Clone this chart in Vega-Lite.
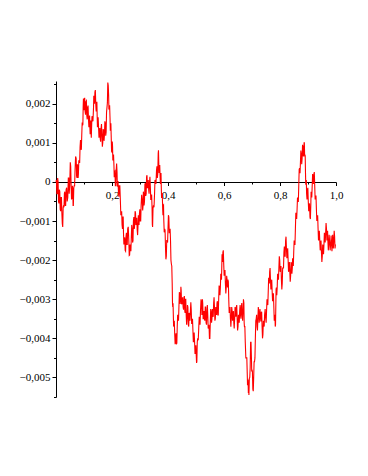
{
  "$schema": "https://vega.github.io/schema/vega-lite/v6.json",
  "width": 280,
  "height": 316,
  "autosize": "none",
  "padding": {"left": 56, "top": 81, "right": 32, "bottom": 79},
  "config": {"view": {"stroke": null}, "background": "white"},
  "data": {"values": [
    {"x":0,"y":0},{"x":0.003,"y":-0.0003},{"x":0.006,"y":0.0001},{"x":0.009,"y":-0.0005},{"x":0.012,"y":-0.0002},
    {"x":0.015,"y":-0.0007},{"x":0.018,"y":-0.0004},{"x":0.021,"y":-0.0008},{"x":0.024,"y":-0.00115},{"x":0.027,"y":-0.0006},
    {"x":0.030,"y":-0.0003},{"x":0.033,"y":-0.0006},{"x":0.036,"y":-0.0002},{"x":0.040,"y":-0.0005},{"x":0.044,"y":0.0001},
    {"x":0.047,"y":-0.0003},{"x":0.051,"y":0.0005},{"x":0.054,"y":-0.0001},{"x":0.057,"y":-0.0004},{"x":0.060,"y":-0.0002},
    {"x":0.062,"y":-0.0006},{"x":0.065,"y":-0.0001},{"x":0.068,"y":0.0003},{"x":0.072,"y":0.0006},{"x":0.075,"y":0.0001},
    {"x":0.078,"y":0.0004},{"x":0.080,"y":0.0002},{"x":0.083,"y":0.0005},{"x":0.086,"y":0.0009},{"x":0.089,"y":0.00085},
    {"x":0.092,"y":0.0012},{"x":0.095,"y":0.00145},{"x":0.097,"y":0.0019},{"x":0.099,"y":0.00196},{"x":0.101,"y":0.0021},
    {"x":0.104,"y":0.0018},{"x":0.107,"y":0.00205},{"x":0.110,"y":0.0017},{"x":0.113,"y":0.0019},{"x":0.116,"y":0.0016},
    {"x":0.119,"y":0.0016},{"x":0.121,"y":0.0014},{"x":0.123,"y":0.00145},{"x":0.125,"y":0.0013},{"x":0.127,"y":0.00137},
    {"x":0.130,"y":0.0016},{"x":0.134,"y":0.0019},{"x":0.136,"y":0.0021},{"x":0.139,"y":0.0023},{"x":0.142,"y":0.002},
    {"x":0.145,"y":0.002},{"x":0.147,"y":0.0017},{"x":0.149,"y":0.0015},{"x":0.152,"y":0.0014},{"x":0.155,"y":0.00127},
    {"x":0.158,"y":0.0011},{"x":0.161,"y":0.00137},{"x":0.164,"y":0.0012},{"x":0.167,"y":0.001},{"x":0.170,"y":0.0013},
    {"x":0.173,"y":0.0012},{"x":0.176,"y":0.0015},{"x":0.179,"y":0.00127},{"x":0.182,"y":0.0019},{"x":0.185,"y":0.00254},
    {"x":0.188,"y":0.0022},{"x":0.190,"y":0.0019},{"x":0.193,"y":0.00163},{"x":0.195,"y":0.0014},{"x":0.197,"y":0.0012},
    {"x":0.200,"y":0.00076},{"x":0.202,"y":0.0009},{"x":0.204,"y":0.0006},{"x":0.207,"y":0.0004},{"x":0.209,"y":0.00025},
    {"x":0.212,"y":-0.0001},{"x":0.215,"y":0.0003},{"x":0.218,"y":0.00025},{"x":0.220,"y":-0.0001},{"x":0.223,"y":-0.00026},
    {"x":0.226,"y":-0.0001},{"x":0.230,"y":-0.0005},{"x":0.233,"y":-0.0008},{"x":0.236,"y":-0.0011},{"x":0.239,"y":-0.0009},
    {"x":0.241,"y":-0.0013},{"x":0.244,"y":-0.0015},{"x":0.247,"y":-0.00175},{"x":0.250,"y":-0.0014},{"x":0.253,"y":-0.0016},
    {"x":0.256,"y":-0.0012},{"x":0.260,"y":-0.0015},{"x":0.263,"y":-0.00187},{"x":0.266,"y":-0.00174},{"x":0.269,"y":-0.0014},
    {"x":0.272,"y":-0.0012},{"x":0.275,"y":-0.0015},{"x":0.278,"y":-0.0009},{"x":0.281,"y":-0.0011},{"x":0.284,"y":-0.0008},
    {"x":0.287,"y":-0.001},{"x":0.290,"y":-0.00123},{"x":0.293,"y":-0.0011},{"x":0.295,"y":-0.001},{"x":0.298,"y":-0.0008},
    {"x":0.301,"y":-0.001},{"x":0.304,"y":-0.0006},{"x":0.308,"y":-0.00047},{"x":0.311,"y":-0.0006},{"x":0.313,"y":-0.0003},
    {"x":0.316,"y":-0.0005},{"x":0.319,"y":-0.00003},{"x":0.322,"y":-0.0003},{"x":0.325,"y":0.00017},{"x":0.328,"y":-0.0001},
    {"x":0.331,"y":-0.0002},{"x":0.334,"y":0.0},{"x":0.337,"y":-0.00013},{"x":0.340,"y":-0.0004},{"x":0.343,"y":-0.00064},
    {"x":0.345,"y":-0.00115},{"x":0.348,"y":-0.0006},{"x":0.352,"y":-0.0003},{"x":0.355,"y":0.0},{"x":0.359,"y":0.0003},
    {"x":0.362,"y":0.0001},{"x":0.365,"y":0.00073},{"x":0.367,"y":0.0005},{"x":0.369,"y":0.00037},{"x":0.372,"y":0.0001},
    {"x":0.374,"y":0.0002},{"x":0.376,"y":-0.00013},{"x":0.378,"y":-0.0003},{"x":0.381,"y":-0.0007},{"x":0.383,"y":-0.0006},
    {"x":0.385,"y":-0.00098},{"x":0.388,"y":-0.0012},{"x":0.391,"y":-0.00166},{"x":0.394,"y":-0.0019},{"x":0.397,"y":-0.0015},
    {"x":0.400,"y":-0.0012},{"x":0.403,"y":-0.0009},{"x":0.406,"y":-0.0013},{"x":0.409,"y":-0.0015},{"x":0.412,"y":-0.0021},
    {"x":0.415,"y":-0.0026},{"x":0.417,"y":-0.0032},{"x":0.419,"y":-0.0034},{"x":0.421,"y":-0.0036},{"x":0.424,"y":-0.0039},
    {"x":0.427,"y":-0.004},{"x":0.430,"y":-0.00415},{"x":0.433,"y":-0.0037},{"x":0.436,"y":-0.0035},{"x":0.439,"y":-0.0032},
    {"x":0.442,"y":-0.00285},{"x":0.445,"y":-0.003},{"x":0.447,"y":-0.00277},{"x":0.450,"y":-0.0031},{"x":0.454,"y":-0.0032},
    {"x":0.457,"y":-0.00295},{"x":0.460,"y":-0.0033},{"x":0.462,"y":-0.003},{"x":0.465,"y":-0.0034},{"x":0.468,"y":-0.0035},
    {"x":0.471,"y":-0.0032},{"x":0.474,"y":-0.0037},{"x":0.477,"y":-0.0034},{"x":0.480,"y":-0.0033},{"x":0.483,"y":-0.00327},
    {"x":0.486,"y":-0.0036},{"x":0.489,"y":-0.0038},{"x":0.492,"y":-0.004},{"x":0.495,"y":-0.0041},{"x":0.498,"y":-0.0043},
    {"x":0.501,"y":-0.00446},{"x":0.503,"y":-0.0046},{"x":0.506,"y":-0.004},{"x":0.510,"y":-0.0037},{"x":0.513,"y":-0.0036},
    {"x":0.516,"y":-0.0033},{"x":0.520,"y":-0.0031},{"x":0.522,"y":-0.0033},{"x":0.524,"y":-0.0031},{"x":0.527,"y":-0.0035},
    {"x":0.530,"y":-0.0035},{"x":0.533,"y":-0.0032},{"x":0.536,"y":-0.0036},{"x":0.539,"y":-0.0033},{"x":0.542,"y":-0.0034},
    {"x":0.545,"y":-0.0037},{"x":0.548,"y":-0.004},{"x":0.551,"y":-0.0036},{"x":0.554,"y":-0.0033},{"x":0.557,"y":-0.0035},
    {"x":0.560,"y":-0.0034},{"x":0.563,"y":-0.0031},{"x":0.566,"y":-0.0032},{"x":0.569,"y":-0.0035},{"x":0.572,"y":-0.0033},
    {"x":0.575,"y":-0.0031},{"x":0.578,"y":-0.0034},{"x":0.581,"y":-0.003},{"x":0.584,"y":-0.0027},{"x":0.587,"y":-0.0027},
    {"x":0.590,"y":-0.0024},{"x":0.592,"y":-0.0022},{"x":0.594,"y":-0.0019},{"x":0.596,"y":-0.0018},{"x":0.599,"y":-0.0021},
    {"x":0.602,"y":-0.0023},{"x":0.605,"y":-0.0026},{"x":0.608,"y":-0.0027},{"x":0.611,"y":-0.0025},{"x":0.614,"y":-0.0025},
    {"x":0.617,"y":-0.003},{"x":0.620,"y":-0.0033},{"x":0.623,"y":-0.0035},{"x":0.626,"y":-0.0035},{"x":0.629,"y":-0.0033},
    {"x":0.632,"y":-0.0034},{"x":0.635,"y":-0.0036},{"x":0.638,"y":-0.0035},{"x":0.641,"y":-0.0033},{"x":0.644,"y":-0.0032},
    {"x":0.647,"y":-0.0035},{"x":0.650,"y":-0.0037},{"x":0.653,"y":-0.0035},{"x":0.656,"y":-0.0033},{"x":0.659,"y":-0.0034},
    {"x":0.662,"y":-0.0032},{"x":0.665,"y":-0.0034},{"x":0.668,"y":-0.0033},{"x":0.671,"y":-0.0031},{"x":0.673,"y":-0.0037},
    {"x":0.676,"y":-0.0041},{"x":0.680,"y":-0.0045},{"x":0.683,"y":-0.0049},{"x":0.685,"y":-0.0051},{"x":0.687,"y":-0.0054},
    {"x":0.689,"y":-0.00545},{"x":0.692,"y":-0.005},{"x":0.695,"y":-0.0041},{"x":0.698,"y":-0.0045},{"x":0.700,"y":-0.0048},
    {"x":0.703,"y":-0.0053},{"x":0.706,"y":-0.005},{"x":0.709,"y":-0.0046},{"x":0.712,"y":-0.004},{"x":0.715,"y":-0.0035},
    {"x":0.718,"y":-0.0037},{"x":0.721,"y":-0.0035},{"x":0.724,"y":-0.0033},{"x":0.727,"y":-0.0035},{"x":0.730,"y":-0.0034},
    {"x":0.733,"y":-0.00335},{"x":0.736,"y":-0.0037},{"x":0.739,"y":-0.0039},{"x":0.742,"y":-0.0036},{"x":0.745,"y":-0.0034},
    {"x":0.749,"y":-0.0035},{"x":0.752,"y":-0.0033},{"x":0.755,"y":-0.0031},{"x":0.758,"y":-0.0028},{"x":0.761,"y":-0.0025},
    {"x":0.763,"y":-0.0023},{"x":0.766,"y":-0.0025},{"x":0.769,"y":-0.0026},{"x":0.772,"y":-0.0028},{"x":0.775,"y":-0.0029},
    {"x":0.778,"y":-0.0032},{"x":0.781,"y":-0.0035},{"x":0.783,"y":-0.0037},{"x":0.785,"y":-0.0032},{"x":0.787,"y":-0.0027},
    {"x":0.790,"y":-0.0027},{"x":0.793,"y":-0.0024},{"x":0.796,"y":-0.0022},{"x":0.799,"y":-0.002},{"x":0.802,"y":-0.0022},
    {"x":0.805,"y":-0.0025},{"x":0.808,"y":-0.0026},{"x":0.811,"y":-0.0022},{"x":0.814,"y":-0.0018},{"x":0.817,"y":-0.0019},
    {"x":0.820,"y":-0.0015},{"x":0.823,"y":-0.0017},{"x":0.826,"y":-0.0018},{"x":0.829,"y":-0.002},{"x":0.832,"y":-0.0022},
    {"x":0.835,"y":-0.0023},{"x":0.838,"y":-0.0024},{"x":0.841,"y":-0.0021},{"x":0.844,"y":-0.0022},{"x":0.846,"y":-0.0021},
    {"x":0.849,"y":-0.0018},{"x":0.852,"y":-0.0016},{"x":0.855,"y":-0.0012},{"x":0.858,"y":-0.0008},{"x":0.861,"y":-0.0007},
    {"x":0.864,"y":-0.0005},{"x":0.867,"y":-0.0001},{"x":0.870,"y":0.00035},{"x":0.873,"y":0.0005},{"x":0.876,"y":0.0007},
    {"x":0.879,"y":0.0006},{"x":0.882,"y":0.0009},{"x":0.885,"y":0.0008},{"x":0.887,"y":0.001},{"x":0.889,"y":0.0007},
    {"x":0.891,"y":0.00025},{"x":0.893,"y":0.0},{"x":0.895,"y":-0.0003},{"x":0.898,"y":-0.0002},{"x":0.901,"y":-0.0005},
    {"x":0.904,"y":-0.0006},{"x":0.907,"y":-0.0009},{"x":0.910,"y":-0.0006},{"x":0.912,"y":-0.0003},{"x":0.915,"y":-0.0001},
    {"x":0.918,"y":0.0001},{"x":0.921,"y":0.0002},{"x":0.924,"y":-0.0001},{"x":0.927,"y":-0.0004},{"x":0.930,"y":-0.0007},
    {"x":0.933,"y":-0.0009},{"x":0.936,"y":-0.0012},{"x":0.939,"y":-0.0014},{"x":0.942,"y":-0.0015},{"x":0.945,"y":-0.0016},
    {"x":0.948,"y":-0.0018},{"x":0.951,"y":-0.0019},{"x":0.954,"y":-0.0017},{"x":0.957,"y":-0.0016},{"x":0.960,"y":-0.0014},
    {"x":0.963,"y":-0.0013},{"x":0.966,"y":-0.0012},{"x":0.969,"y":-0.0014},{"x":0.971,"y":-0.0015},{"x":0.974,"y":-0.0016},
    {"x":0.977,"y":-0.0015},{"x":0.981,"y":-0.0016},{"x":0.984,"y":-0.00155},{"x":0.987,"y":-0.0016},{"x":0.989,"y":-0.0015},
    {"x":0.992,"y":-0.0015},{"x":0.995,"y":-0.0014},{"x":0.998,"y":-0.0016},
    {"x":0.0015,"y":0.00005},{"x":0.0045,"y":-0.0003},{"x":0.0075,"y":0.0},{"x":0.0105,"y":-0.00055},{"x":0.0135,"y":-0.00025},
    {"x":0.0165,"y":-0.00075},{"x":0.0195,"y":-0.0004},{"x":0.0225,"y":-0.00107},{"x":0.0255,"y":-0.00067},{"x":0.0285,"y":-0.00065},
    {"x":0.0315,"y":-0.00025},{"x":0.0345,"y":-0.0006},{"x":0.038,"y":-0.00015},{"x":0.042,"y":-0.0004},{"x":0.0455,"y":0.0001},
    {"x":0.049,"y":-0.0001},{"x":0.0525,"y":0.0004},{"x":0.0555,"y":-0.00045},{"x":0.0585,"y":-0.0001},{"x":0.061,"y":-0.0006},
    {"x":0.0635,"y":-0.00015},{"x":0.0665,"y":-0.0001},{"x":0.070,"y":0.00065},{"x":0.0735,"y":0.00015},{"x":0.0765,"y":0.00045},
    {"x":0.079,"y":0.0001},{"x":0.0815,"y":0.00055},{"x":0.0845,"y":0.0005},{"x":0.0875,"y":0.00107},{"x":0.0905,"y":0.00082},
    {"x":0.0935,"y":0.00152},{"x":0.096,"y":0.00147},{"x":0.098,"y":0.00213},{"x":0.100,"y":0.00183},{"x":0.1025,"y":0.00215},
    {"x":0.1055,"y":0.00172},{"x":0.1085,"y":0.00207},{"x":0.1115,"y":0.0016},{"x":0.1145,"y":0.00195},{"x":0.1175,"y":0.0014},
    {"x":0.120,"y":0.0017},{"x":0.122,"y":0.00122},{"x":0.124,"y":0.00157},{"x":0.126,"y":0.00113},{"x":0.1285,"y":0.00168},
    {"x":0.132,"y":0.00155},{"x":0.135,"y":0.0022},{"x":0.1375,"y":0.002},{"x":0.1405,"y":0.00235},{"x":0.1435,"y":0.0018},
    {"x":0.146,"y":0.00205},{"x":0.148,"y":0.0014},{"x":0.1505,"y":0.00165},{"x":0.1535,"y":0.00113},{"x":0.1565,"y":0.00138},
    {"x":0.1595,"y":0.00103},{"x":0.1625,"y":0.00148},{"x":0.1655,"y":0.0009},{"x":0.1685,"y":0.00135},{"x":0.1715,"y":0.00105},
    {"x":0.1745,"y":0.00155},{"x":0.1775,"y":0.00118},{"x":0.1805,"y":0.00178},{"x":0.1835,"y":0.00202},{"x":0.1865,"y":0.00247},
    {"x":0.189,"y":0.00185},{"x":0.1915,"y":0.00196},{"x":0.194,"y":0.00131},{"x":0.196,"y":0.0015},{"x":0.1985,"y":0.00078},
    {"x":0.201,"y":0.00103},{"x":0.203,"y":0.00055},{"x":0.2055,"y":0.0007},{"x":0.208,"y":0.00012},{"x":0.2105,"y":0.00027},
    {"x":0.2135,"y":-0.0001},{"x":0.2165,"y":0.00047},{"x":0.219,"y":-0.00012},{"x":0.2215,"y":0.00002},{"x":0.2245,"y":-0.00038},
    {"x":0.228,"y":-0.0001},{"x":0.2315,"y":-0.00085},{"x":0.2345,"y":-0.00075},{"x":0.2375,"y":-0.0012},{"x":0.240,"y":-0.0009},
    {"x":0.2425,"y":-0.0016},{"x":0.2455,"y":-0.00142},{"x":0.2485,"y":-0.00177},{"x":0.2515,"y":-0.0013},{"x":0.2545,"y":-0.0016},
    {"x":0.258,"y":-0.00115},{"x":0.2615,"y":-0.00188},{"x":0.2645,"y":-0.0016},{"x":0.2675,"y":-0.00177},{"x":0.2705,"y":-0.0011},
    {"x":0.2735,"y":-0.00155},{"x":0.2765,"y":-0.001},{"x":0.2795,"y":-0.0012},{"x":0.2825,"y":-0.00075},{"x":0.2855,"y":-0.0011},
    {"x":0.2885,"y":-0.00092},{"x":0.2915,"y":-0.00136},{"x":0.294,"y":-0.00085},{"x":0.2965,"y":-0.0011},{"x":0.2995,"y":-0.0007},
    {"x":0.3025,"y":-0.001},{"x":0.306,"y":-0.00033},{"x":0.3095,"y":-0.00073},{"x":0.312,"y":-0.00025},{"x":0.3145,"y":-0.0006},
    {"x":0.3175,"y":-0.00006},{"x":0.3205,"y":-0.00036},{"x":0.3235,"y":0.00013},{"x":0.3265,"y":-0.00016},{"x":0.3295,"y":0.00005},
    {"x":0.3325,"y":-0.0003},{"x":0.3355,"y":0.00013},{"x":0.3385,"y":-0.00046},{"x":0.3415,"y":-0.00032},{"x":0.344,"y":-0.00109},
    {"x":0.3465,"y":-0.00067},{"x":0.350,"y":-0.00065},{"x":0.3535,"y":0.00005},{"x":0.357,"y":-0.00005},{"x":0.3605,"y":0.0004},
    {"x":0.3635,"y":0.00021},{"x":0.366,"y":0.00081},{"x":0.368,"y":0.00023},{"x":0.3705,"y":0.00043},{"x":0.373,"y":-0.00005},
    {"x":0.375,"y":0.00023},{"x":0.377,"y":-0.00041},{"x":0.3795,"y":-0.0003},{"x":0.382,"y":-0.00085},{"x":0.384,"y":-0.00059},
    {"x":0.3865,"y":-0.00129},{"x":0.3895,"y":-0.00123},{"x":0.3925,"y":-0.00198},{"x":0.3955,"y":-0.0015},{"x":0.3985,"y":-0.00155},
    {"x":0.4015,"y":-0.00085},{"x":0.4045,"y":-0.0013},{"x":0.4075,"y":-0.0012},{"x":0.4105,"y":-0.002},{"x":0.4135,"y":-0.00215},
    {"x":0.416,"y":-0.0031},{"x":0.418,"y":-0.0031},{"x":0.420,"y":-0.0037},{"x":0.4225,"y":-0.00355},{"x":0.4255,"y":-0.00415},
    {"x":0.4285,"y":-0.00387},{"x":0.4315,"y":-0.00412},{"x":0.4345,"y":-0.0034},{"x":0.4375,"y":-0.00355},{"x":0.4405,"y":-0.00282},
    {"x":0.4435,"y":-0.00312},{"x":0.446,"y":-0.00268},{"x":0.4485,"y":-0.00313},{"x":0.452,"y":-0.00295},{"x":0.4555,"y":-0.00327},
    {"x":0.4585,"y":-0.00292},{"x":0.461,"y":-0.00335},{"x":0.4635,"y":-0.003},{"x":0.4665,"y":-0.00365},{"x":0.4695,"y":-0.00315},
    {"x":0.4725,"y":-0.00365},{"x":0.4755,"y":-0.00335},{"x":0.4785,"y":-0.00355},{"x":0.4815,"y":-0.00308},{"x":0.4845,"y":-0.00363},
    {"x":0.4875,"y":-0.0035},{"x":0.4905,"y":-0.0041},{"x":0.4935,"y":-0.00385},{"x":0.4965,"y":-0.0044},{"x":0.4995,"y":-0.00418},
    {"x":0.502,"y":-0.00463},{"x":0.5045,"y":-0.0041},{"x":0.508,"y":-0.00405},{"x":0.5115,"y":-0.00345},{"x":0.5145,"y":-0.00365},
    {"x":0.518,"y":-0.003},{"x":0.521,"y":-0.0034},{"x":0.523,"y":-0.003},{"x":0.5255,"y":-0.0035},{"x":0.5285,"y":-0.0033},
    {"x":0.5315,"y":-0.00355},{"x":0.5345,"y":-0.0032},{"x":0.5375,"y":-0.00365},{"x":0.5405,"y":-0.00315},{"x":0.5435,"y":-0.00375},
    {"x":0.5465,"y":-0.00365},{"x":0.5495,"y":-0.004},{"x":0.5525,"y":-0.00325},{"x":0.5555,"y":-0.0036},{"x":0.5585,"y":-0.00325},
    {"x":0.5615,"y":-0.00345},{"x":0.5645,"y":-0.00295},{"x":0.5675,"y":-0.00355},{"x":0.5705,"y":-0.0032},{"x":0.5735,"y":-0.0034},
    {"x":0.5765,"y":-0.00305},{"x":0.5795,"y":-0.0034},{"x":0.5825,"y":-0.00265},{"x":0.5855,"y":-0.0029},{"x":0.5885,"y":-0.00235},
    {"x":0.591,"y":-0.0025},{"x":0.593,"y":-0.00185},{"x":0.595,"y":-0.00205},{"x":0.5975,"y":-0.00175},{"x":0.6005,"y":-0.0024},
    {"x":0.6035,"y":-0.00225},{"x":0.6065,"y":-0.00285},{"x":0.6095,"y":-0.0024},{"x":0.6125,"y":-0.0027},{"x":0.6155,"y":-0.00255},
    {"x":0.6185,"y":-0.00335},{"x":0.6215,"y":-0.0032},{"x":0.6245,"y":-0.0037},{"x":0.6275,"y":-0.0032},{"x":0.6305,"y":-0.00355},
    {"x":0.6335,"y":-0.0033},{"x":0.6365,"y":-0.00375},{"x":0.6395,"y":-0.0032},{"x":0.6425,"y":-0.00345},{"x":0.6455,"y":-0.00315},
    {"x":0.6485,"y":-0.0038},{"x":0.6515,"y":-0.0034},{"x":0.6545,"y":-0.0036},{"x":0.6575,"y":-0.00315},{"x":0.6605,"y":-0.0035},
    {"x":0.6635,"y":-0.0031},{"x":0.6665,"y":-0.00355},{"x":0.6695,"y":-0.003},{"x":0.672,"y":-0.0036},{"x":0.6745,"y":-0.0037},
    {"x":0.678,"y":-0.0045},{"x":0.6815,"y":-0.0045},{"x":0.684,"y":-0.0052},{"x":0.686,"y":-0.00505},{"x":0.688,"y":-0.0053},
    {"x":0.6905,"y":-0.00502},{"x":0.6935,"y":-0.00475},{"x":0.6965,"y":-0.0041},{"x":0.699,"y":-0.00485},{"x":0.7015,"y":-0.00485},
    {"x":0.7045,"y":-0.00535},{"x":0.7075,"y":-0.0046},{"x":0.7105,"y":-0.0045},{"x":0.7135,"y":-0.00355},{"x":0.7165,"y":-0.0034},
    {"x":0.7195,"y":-0.0038},{"x":0.7225,"y":-0.0032},{"x":0.7255,"y":-0.0036},{"x":0.7285,"y":-0.00325},{"x":0.7315,"y":-0.00357},
    {"x":0.7345,"y":-0.00332},{"x":0.7375,"y":-0.004},{"x":0.7405,"y":-0.00355},{"x":0.7435,"y":-0.0037},{"x":0.747,"y":-0.00325},
    {"x":0.7505,"y":-0.0036},{"x":0.7535,"y":-0.003},{"x":0.7565,"y":-0.00315},{"x":0.7595,"y":-0.00245},{"x":0.762,"y":-0.0026},
    {"x":0.7645,"y":-0.0022},{"x":0.7675,"y":-0.00275},{"x":0.7705,"y":-0.0025},{"x":0.7735,"y":-0.00305},{"x":0.7765,"y":-0.00285},
    {"x":0.7795,"y":-0.00355},{"x":0.782,"y":-0.0034},{"x":0.784,"y":-0.00365},{"x":0.786,"y":-0.00275},{"x":0.7885,"y":-0.0029},
    {"x":0.7915,"y":-0.00235},{"x":0.7945,"y":-0.0025},{"x":0.7975,"y":-0.0019},{"x":0.8005,"y":-0.0023},{"x":0.8035,"y":-0.00215},
    {"x":0.8065,"y":-0.00275},{"x":0.8095,"y":-0.0022},{"x":0.8125,"y":-0.0022},{"x":0.8155,"y":-0.00165},{"x":0.8185,"y":-0.0019},
    {"x":0.8215,"y":-0.0014},{"x":0.8245,"y":-0.00195},{"x":0.8275,"y":-0.0017},{"x":0.8305,"y":-0.0023},{"x":0.8335,"y":-0.00205},
    {"x":0.8365,"y":-0.00255},{"x":0.8395,"y":-0.00205},{"x":0.8425,"y":-0.00235},{"x":0.845,"y":-0.00195},{"x":0.8475,"y":-0.00215},
    {"x":0.8505,"y":-0.0015},{"x":0.8535,"y":-0.0016},{"x":0.8565,"y":-0.0008},{"x":0.8595,"y":-0.00095},{"x":0.8625,"y":-0.0004},
    {"x":0.8655,"y":-0.0005},{"x":0.8685,"y":0.00032},{"x":0.8715,"y":0.00022},{"x":0.8745,"y":0.0008},{"x":0.8775,"y":0.00045},
    {"x":0.8805,"y":0.00095},{"x":0.8835,"y":0.00065},{"x":0.886,"y":0.001},{"x":0.888,"y":0.00065},{"x":0.890,"y":0.00067},
    {"x":0.892,"y":-0.00007},{"x":0.894,"y":0.00005},{"x":0.8965,"y":-0.00045},{"x":0.8995,"y":-0.00015},{"x":0.9025,"y":-0.00075},
    {"x":0.9055,"y":-0.00055},{"x":0.9085,"y":-0.00095},{"x":0.911,"y":-0.00025},{"x":0.9135,"y":-0.0004},{"x":0.9165,"y":0.0002},
    {"x":0.9195,"y":-0.00005},{"x":0.9225,"y":0.00025},{"x":0.9255,"y":-0.00045},{"x":0.9285,"y":-0.00035},{"x":0.9315,"y":-0.001},
    {"x":0.9345,"y":-0.00085},{"x":0.9375,"y":-0.0015},{"x":0.9405,"y":-0.00125},{"x":0.9435,"y":-0.00175},{"x":0.9465,"y":-0.0015},
    {"x":0.9495,"y":-0.00205},{"x":0.9525,"y":-0.0016},{"x":0.9555,"y":-0.00185},{"x":0.9585,"y":-0.0013},{"x":0.9615,"y":-0.00155},
    {"x":0.9645,"y":-0.00105},{"x":0.9675,"y":-0.0015},{"x":0.970,"y":-0.00125},{"x":0.9725,"y":-0.00175},{"x":0.9755,"y":-0.00135},
    {"x":0.979,"y":-0.00175},{"x":0.9825,"y":-0.00137},{"x":0.9855,"y":-0.00177},{"x":0.988,"y":-0.00135},{"x":0.9905,"y":-0.0017},
    {"x":0.9935,"y":-0.00125},{"x":0.9965,"y":-0.0017}
  ]},
  "mark": {"type": "line", "color": "#ff0000", "strokeWidth": 1.1},
  "encoding": {
    "x": {
      "field": "x", "type": "quantitative",
      "scale": {"domain": [0, 1], "nice": false, "zero": false},
      "axis": {
        "title": null,
        "offset": -215,
        "values": [0.1, 0.2, 0.3, 0.4, 0.5, 0.6, 0.7, 0.8, 0.9, 1.0],
        "grid": false,
        "domainColor": "#000000",
        "domainWidth": 1,
        "tickColor": "#000000",
        "tickWidth": 1,
        "tickSize": {"condition": {"test": "round(datum.value*10) % 2 == 0", "value": 3.5}, "value": 2},
        "labelExpr": "round(datum.value*10) % 2 == 0 ? replace(format(datum.value, '.1f'), '.', ',') : ''",
        "labelFont": "Liberation Serif",
        "labelFontSize": 11,
        "labelColor": "#000000",
        "labelPadding": 4,
        "labelFlush": false,
        "labelOverlap": false
      }
    },
    "y": {
      "field": "y", "type": "quantitative",
      "scale": {"domain": [-0.0055, 0.00258], "nice": false, "zero": false},
      "axis": {
        "title": null,
        "values": [-0.0055, -0.005, -0.0045, -0.004, -0.0035, -0.003, -0.0025, -0.002, -0.0015, -0.001, -0.0005, 0, 0.0005, 0.001, 0.0015, 0.002, 0.0025],
        "grid": false,
        "domainColor": "#000000",
        "domainWidth": 1,
        "tickColor": "#000000",
        "tickWidth": 1,
        "tickSize": {"condition": {"test": "abs(round(datum.value*2000)) % 2 == 0", "value": 4}, "value": 2.5},
        "labelExpr": "abs(round(datum.value*2000)) % 2 == 0 ? (datum.value == 0 ? '0' : replace(format(datum.value, '.3f'), '.', ',')) : ''",
        "labelFont": "Liberation Serif",
        "labelFontSize": 11,
        "labelColor": "#000000",
        "labelPadding": 2,
        "labelFlush": false,
        "labelOverlap": false
      }
    }
  }
}
